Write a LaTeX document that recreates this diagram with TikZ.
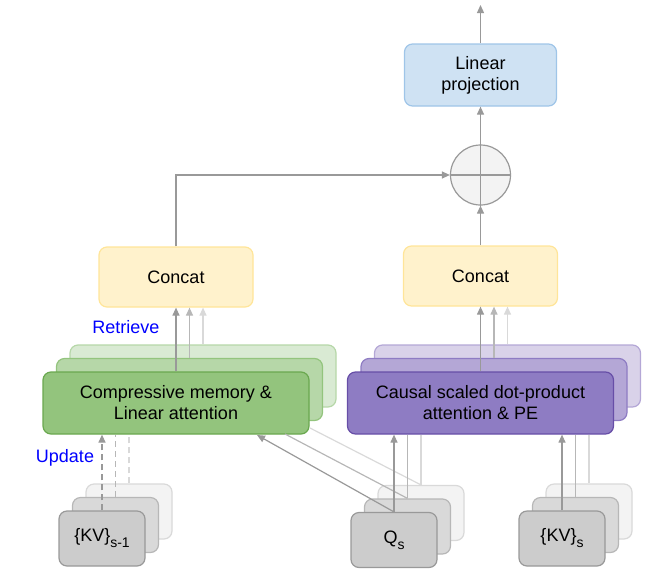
\documentclass[tikz,border=0pt]{standalone}
\usepackage{fontspec}
\setmainfont{Liberation Sans}
\usetikzlibrary{arrows.meta}
\usetikzlibrary{calc}

\definecolor{grnA}{HTML}{93C47D}
\definecolor{grnAd}{HTML}{6AA84F}
\definecolor{grnB}{HTML}{B6D7A8}
\definecolor{grnC}{HTML}{D9EAD3}
\definecolor{prpA}{HTML}{8E7CC3}
\definecolor{prpAd}{HTML}{674EA7}
\definecolor{prpB}{HTML}{B4A7D6}
\definecolor{prpC}{HTML}{D9D2E9}
\definecolor{gryA}{HTML}{CCCCCC}
\definecolor{gryAd}{HTML}{999999}
\definecolor{gryB}{HTML}{D9D9D9}
\definecolor{gryBd}{HTML}{B7B7B7}
\definecolor{gryC}{HTML}{F3F3F3}
\definecolor{yel}{HTML}{FFF2CC}
\definecolor{yeld}{HTML}{FFE599}
\definecolor{blu}{HTML}{CFE2F3}
\definecolor{blud}{HTML}{9FC5E8}

\newcommand{\lowsub}[1]{\raisebox{-6pt}{\fontsize{14}{14}\selectfont #1}}

\tikzset{
  box/.style={rectangle, rounded corners=8pt, line width=1.2pt, inner sep=0pt, align=center,
    font=\fontsize{18}{21}\selectfont},
  wide/.style={box, minimum width=266pt, minimum height=62pt},
  small/.style={box, minimum width=86pt, minimum height=55pt},
  link/.style={line width=1.2pt},
  tip/.style={-{Triangle[length=8pt,width=7pt]}},
  dk/.style={link, draw=gryAd},
  md/.style={link, draw=gryBd},
  lt/.style={link, draw=gryB},
}

\begin{document}
\begin{tikzpicture}[x=1pt,y=-1pt]
        \useasboundingbox (0,0) rectangle (655,573);

        %memory boxes
        \node[wide, fill=grnC, draw=grnB] (memC) at (203,376) {};
        \node[wide, fill=grnB, draw=grnA] (memB) at (189.5,389.5) {};
        \node[wide, fill=grnA, draw=grnAd] (memA) at (176,403) {Compressive memory \&\\Linear attention};

        %attention boxes
        \node[wide, fill=prpC, draw=prpB] (attC) at (507.5,376) {};
        \node[wide, fill=prpB, draw=prpA] (attB) at (494,389.5) {};
        \node[wide, fill=prpA, draw=prpAd] (attA) at (480.5,403) {Causal scaled dot-product\\attention \& PE};

        %inputs
        \node[small, fill=gryC, draw=gryB] (kvpC) at (129,511.5) {};
        \node[small, fill=gryB, draw=gryBd] (kvpB) at (115.5,525) {};
        \node[small, fill=gryA, draw=gryAd] (kvpA) at (102,538.5) {\{KV\}\lowsub{s-1}};

        \node[small, fill=gryC, draw=gryB] (qC) at (421,513) {};
        \node[small, fill=gryB, draw=gryBd] (qB) at (407.5,526.5) {};
        \node[small, fill=gryA, draw=gryAd] (qA) at (394,540) {Q\lowsub{s}};

        \node[small, fill=gryC, draw=gryB] (kvC) at (589,511.5) {};
        \node[small, fill=gryB, draw=gryBd] (kvB) at (575.5,525) {};
        \node[small, fill=gryA, draw=gryAd] (kvA) at (562,538.5) {\{KV\}\lowsub{s}};

        %top
        \node[box, fill=yel, draw=yeld, minimum width=154pt, minimum height=60pt] (catL) at (176,277) {Concat};
        \node[box, fill=yel, draw=yeld, minimum width=154pt, minimum height=60pt] (catR) at (480.5,276) {Concat};
        \node[circle, fill=gryC, draw=gryAd, line width=1.2pt, minimum size=60pt, inner sep=0pt] (sum) at (480.5,175) {};
        \node[box, fill=blu, draw=blud, minimum width=152pt, minimum height=62pt] (lin) at (480.5,75) {Linear\\projection};
        \coordinate (out) at (480.5,5);

        \node[text=blue, font=\fontsize{18}{21}\selectfont] (retr) at (126,327) {Retrieve};
        \node[text=blue, font=\fontsize{18}{21}\selectfont] (upd) at (65,458) {Update};

        %update (dashed)
        \draw[dk, tip, dash pattern=on 6pt off 4pt] (kvpA.north) -- (kvpA.north |- memA.south);
        \draw[md, dash pattern=on 6pt off 4pt] ([xshift=13.5pt]kvpA.north |- kvpB.north) -- ([xshift=13.5pt]kvpA.north |- memA.south);
        \draw[lt, dash pattern=on 6pt off 4pt] ([xshift=27pt]kvpA.north |- kvpC.north) -- ([xshift=27pt]kvpA.north |- memA.south);

        %retrieve
        \draw[dk, tip] (memA.north) -- (memA.north |- catL.south);
        \draw[md, tip] (memB.north) -- (memB.north |- catL.south);
        \draw[lt, tip] (memC.north) -- (memC.north |- catL.south);

        \draw[dk, tip] (attA.north) -- (attA.north |- catR.south);
        \draw[md, tip] (attB.north) -- (attB.north |- catR.south);
        \draw[lt, tip] (attC.north) -- (attC.north |- catR.south);

        %queries
        \coordinate (dA) at (257,435);
        \coordinate (dB) at (285,434);
        \coordinate (dC) at (310,428);
        \draw[dk, tip] (qA.north) -- (dA);
        \draw[md] (qB.north) -- (dB);
        \draw[lt] (qC.north) -- (dC);
        \draw[dk, tip] (qA.north) -- (qA.north |- attA.south);
        \draw[md] (qB.north) -- (qB.north |- attA.south);
        \draw[lt] (qC.north) -- (qC.north |- attA.south);

        \draw[dk, tip] (kvA.north) -- (kvA.north |- attA.south);
        \draw[md] (kvB.north) -- (kvB.north |- attA.south);
        \draw[lt] (kvC.north) -- (kvC.north |- attA.south);

        %output
        \draw[dk] (sum.north) -- (sum.south);
        \draw[dk] (sum.west) -- (sum.east);
        \draw[dk, tip] (catR.north) -- (sum.south);
        \draw[dk, tip] (catL.north) |- (sum.west);
        \draw[dk, tip] (sum.north) -- (lin.south);
        \draw[dk, tip] (lin.north) -- (out);
    \end{tikzpicture}
\end{document}
